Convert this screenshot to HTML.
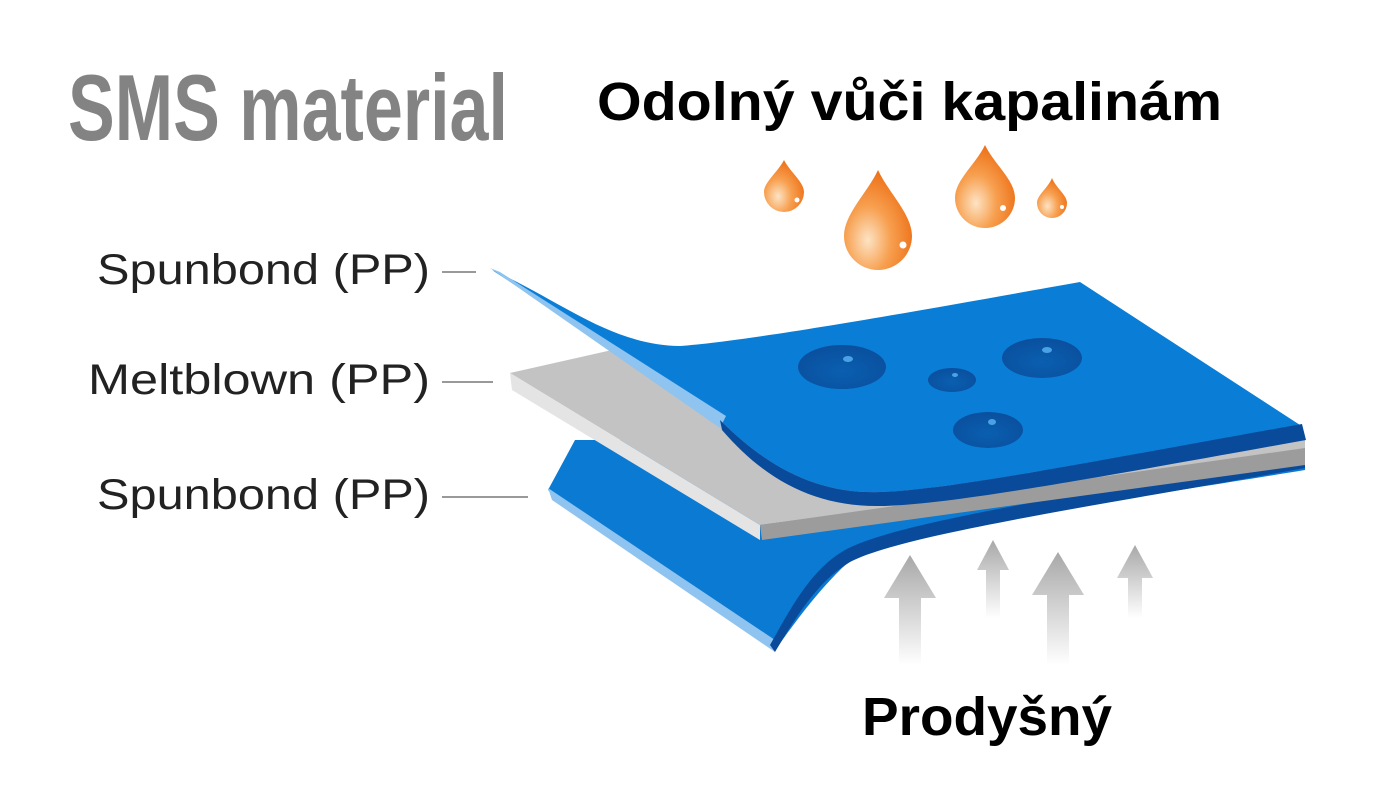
<!DOCTYPE html>
<html><head><meta charset="utf-8"><style>
html,body{margin:0;padding:0;background:#fff}
svg{display:block}
</style></head><body>
<svg width="1376" height="795" viewBox="0 0 1376 795" xmlns="http://www.w3.org/2000/svg">
<defs>
<radialGradient id="dg" cx="0.35" cy="0.7" r="0.75">
<stop offset="0" stop-color="#fde3c4"/><stop offset="0.45" stop-color="#f7a050"/><stop offset="1" stop-color="#ec6a10"/>
</radialGradient>
<radialGradient id="bd" cx="0.5" cy="0.6" r="0.6">
<stop offset="0" stop-color="#0a5fb0"/><stop offset="1" stop-color="#0a4f9e"/>
</radialGradient>
<linearGradient id="ag" x1="0" y1="0" x2="0" y2="1">
<stop offset="0" stop-color="#a8a8a8"/><stop offset="1" stop-color="#ffffff"/>
</linearGradient>
</defs>

<text x="68" y="140" font-family="Liberation Sans Narrow, Liberation Sans, sans-serif" font-size="94" font-weight="bold" fill="#838383" textLength="440" lengthAdjust="spacingAndGlyphs">SMS material</text>
<text x="597" y="120" font-family="Liberation Sans, sans-serif" font-size="54" font-weight="bold" fill="#000" textLength="625" lengthAdjust="spacingAndGlyphs">Odolný vůči kapalinám</text>
<text x="862" y="735" font-family="Liberation Sans, sans-serif" font-size="54" font-weight="bold" fill="#000" textLength="250" lengthAdjust="spacingAndGlyphs">Prodyšný</text>

<g font-family="Liberation Sans, DejaVu Sans, sans-serif" font-size="43" fill="#222">
<text x="97" y="284" textLength="333" lengthAdjust="spacingAndGlyphs">Spunbond (PP)</text>
<text x="88" y="394" textLength="342" lengthAdjust="spacingAndGlyphs">Meltblown (PP)</text>
<text x="97" y="509" textLength="333" lengthAdjust="spacingAndGlyphs">Spunbond (PP)</text>
</g>
<g stroke="#999" stroke-width="2">
<line x1="442" y1="272" x2="476" y2="272"/>
<line x1="442" y1="382" x2="493" y2="382"/>
<line x1="442" y1="497" x2="528" y2="497"/>
</g>

<!-- drops -->
<g fill="url(#dg)">
<path d="M784 160 C790 172 804 182 804 192 A20 20 0 0 1 764 192 C764 182 778 172 784 160Z"/>
<path d="M878 170 C888 192 912 214 912 236 A34 34 0 0 1 844 236 C844 214 868 192 878 170Z"/>
<path d="M985 145 C994 164 1015 180 1015 198 A30 30 0 0 1 955 198 C955 180 976 164 985 145Z"/>
<path d="M1052 178 C1056 188 1067 195 1067 203 A15 15 0 0 1 1037 203 C1037 195 1048 188 1052 178Z"/>
</g>
<g fill="#fff"><circle cx="797" cy="200" r="2.5"/><circle cx="903" cy="245" r="3.5"/><circle cx="1003" cy="208" r="3"/><circle cx="1062" cy="207" r="2"/></g>

<!-- bottom sheet -->
<path d="M548 490 L575 440 L1305 440 L1305 470 C1000 520 880 530 840 570 C810 600 790 630 775 650 Z" fill="#0a7ad2"/>
<path d="M548 488 L552 500 L775 652 L775 640 Z" fill="#8fc3f0"/>
<path d="M775 652 C800 610 820 580 850 562 C900 535 1100 505 1305 468 L1305 455 C1100 492 900 520 845 550 C810 570 790 610 770 645 Z" fill="#0a4a9a"/>

<!-- gray layer -->
<path d="M510 373 L612 350 L1305 440 L1305 452 L760 525 Z" fill="#c3c3c3"/>
<path d="M510 373 L760 525 L760 540 L512 390 Z" fill="#e4e4e4"/>
<path d="M760 525 L1305 448 L1305 465 L762 540 Z" fill="#9c9c9c"/>

<!-- top sheet -->
<path d="M492 270 C560 300 610 345 680 346 C760 340 950 305 1080 282 L1300 425 C1100 460 950 490 880 492 C820 494 770 470 720 420 Z" fill="#0a7ed6"/>
<path d="M490 268 L500 272 L726 416 L720 428 Z" fill="#8fc3f0"/>
<path d="M720 420 C770 470 820 494 880 492 C950 490 1100 460 1302 424 L1306 440 C1100 477 950 505 880 506 C815 507 765 480 722 430 Z" fill="#0a4a9a"/>

<!-- dots -->
<g fill="url(#bd)">
<ellipse cx="842" cy="367" rx="44" ry="22"/>
<ellipse cx="1042" cy="358" rx="40" ry="20"/>
<ellipse cx="952" cy="380" rx="24" ry="12"/>
<ellipse cx="988" cy="430" rx="35" ry="18"/>
</g>
<g fill="#4aa2e6"><ellipse cx="848" cy="359" rx="5" ry="3"/><ellipse cx="1047" cy="350" rx="5" ry="3"/><ellipse cx="955" cy="375" rx="3" ry="2"/><ellipse cx="992" cy="422" rx="4" ry="3"/></g>

<!-- arrows -->
<g fill="url(#ag)">
<path d="M910 555 L936 598 L921 598 L921 665 L899 665 L899 598 L884 598 Z"/>
<path d="M993 540 L1009 570 L1000 570 L1000 618 L986 618 L986 570 L977 570 Z"/>
<path d="M1058 552 L1084 595 L1069 595 L1069 665 L1047 665 L1047 595 L1032 595 Z"/>
<path d="M1135 545 L1153 578 L1142 578 L1142 618 L1128 618 L1128 578 L1117 578 Z"/>
</g>
</svg>
</body></html>
